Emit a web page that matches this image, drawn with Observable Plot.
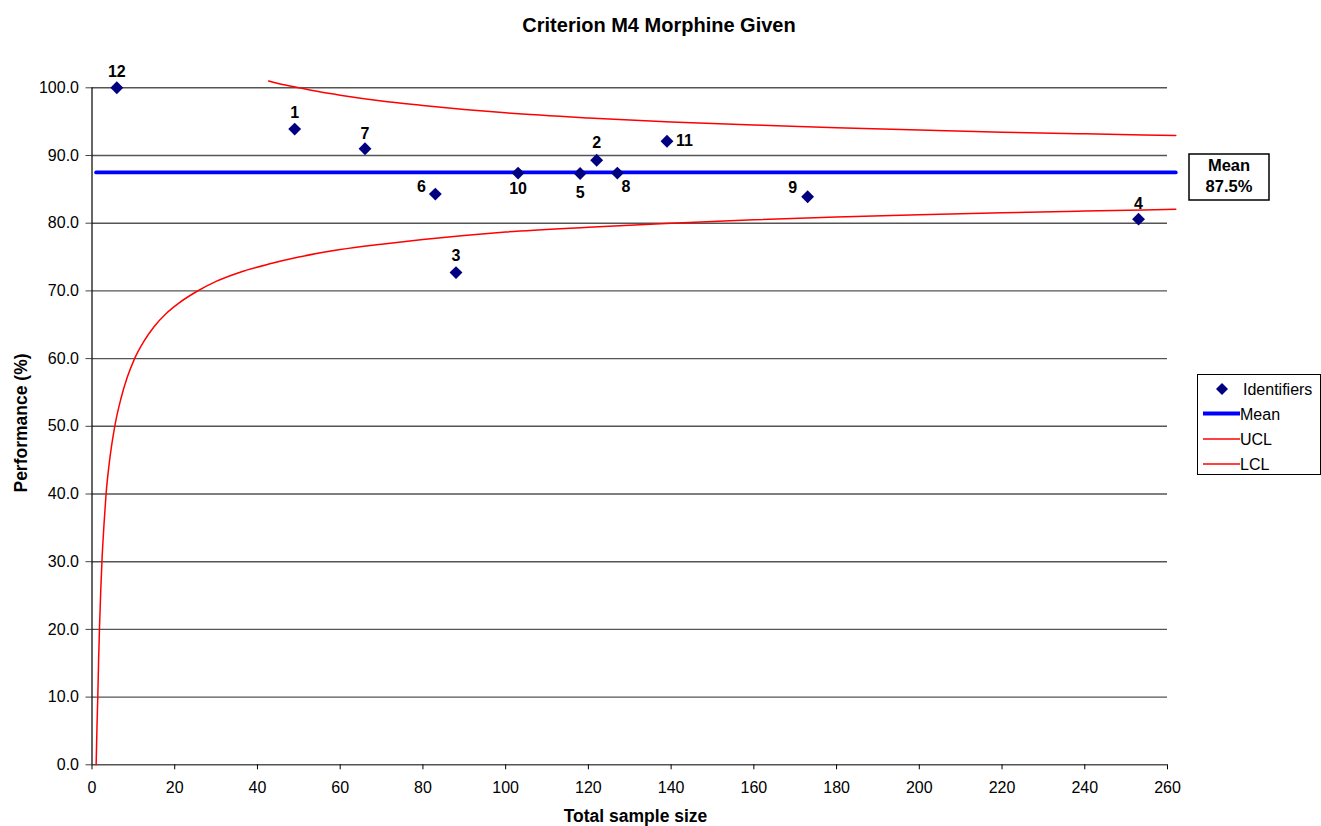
<!DOCTYPE html>
<html>
<head>
<meta charset="utf-8">
<script src="https://cdn.jsdelivr.net/npm/d3@7"></script>
<script src="https://cdn.jsdelivr.net/npm/@observablehq/plot@0.6"></script>
<style>
  html, body { margin: 0; padding: 0; background: #fff; overflow: hidden; }
  #wrap { position: relative; width: 1321px; height: 826px; }
  #wrap svg { position: absolute; left: 0; top: 0; }
</style>
</head>
<body>
<div id="wrap"></div>
<script>
// ---- Data ----
const identifiers = ["12", "1", "7", "6", "3", "10", "5", "2", "8", "11", "9", "4"];
const sampleSizes = [6, 49, 66, 83, 88, 103, 118, 122, 127, 139, 173, 253];
const performance = [100.0, 93.9, 91.0, 84.3, 72.7, 87.4, 87.35, 89.3, 87.4, 92.1, 83.9, 80.6];

const meanValue = 87.5;
const meanN = [1, 262];

const uclN = [42.7, 45, 50, 55, 60, 70, 80, 90, 100, 120, 140, 160, 180, 200, 220, 240, 262];
const uclV = [101.0, 100.65, 100.0, 99.4, 98.9, 98.05, 97.4, 96.8, 96.3, 95.55, 94.95, 94.5, 94.1, 93.75, 93.45, 93.2, 92.95];

const lclN = [1, 1.2, 1.4, 1.6, 1.8, 2.1, 2.4, 2.9, 3.4, 4.2, 5.5, 7, 8.5, 10.3, 12.5, 15, 18, 21, 25, 30, 36, 43, 50, 60, 70, 80, 90, 100, 120, 140, 160, 180, 200, 220, 240, 262];
const lclV = [0, 5.5, 10, 15.5, 20, 25.5, 30, 35.5, 40, 44.7, 50, 54.1, 57.2, 60, 62.5, 64.7, 66.7, 68.2, 69.8, 71.4, 72.8, 74.0, 75.0, 76.1, 76.9, 77.6, 78.2, 78.7, 79.4, 80.0, 80.5, 80.9, 81.25, 81.55, 81.8, 82.05];

const xTicks = [0, 20, 40, 60, 80, 100, 120, 140, 160, 180, 200, 220, 240, 260];
const yTicks = [0, 10, 20, 30, 40, 50, 60, 70, 80, 90, 100];

const titleText = "Criterion M4 Morphine Given";
const xLabel = "Total sample size";
const yLabel = "Performance (%)";
const legendItems = ["Identifiers", "Mean", "UCL", "LCL"];

// label layout (pixel offsets from each point)
const labelOffset = {
  "12": [0, -16], "1": [0, -16.5], "7": [0, -15], "6": [-14, -7.5], "3": [0, -16.5],
  "10": [0, 15.5], "5": [0, 19], "2": [0, -17.5], "8": [8.5, 13.5], "11": [17.5, -0.5],
  "9": [-15, -9], "4": [0, -15.5]
};

// ---- Tables ----
const points = identifiers.map((id, i) => ({id, n: sampleSizes[i], p: performance[i]}));
const ucl = uclN.map((n, i) => ({n, v: uclV[i]}));
const lcl = lclN.map((n, i) => ({n, v: lclV[i]}));
const mean = meanN.map(n => ({n, v: meanValue}));

const FONT = '"Liberation Sans", Arial, Helvetica, sans-serif';
const navy = "#000080";

const chart = Plot.plot({
  width: 1321,
  height: 826,
  marginLeft: 91.5,
  marginRight: 154,
  marginTop: 87.3,
  marginBottom: 61.7,
  style: {fontFamily: FONT, fontSize: "16px", background: "#fff", color: "#000"},
  x: {domain: [0, 260]},
  y: {domain: [0, 100]},
  marks: [
    Plot.gridY(yTicks, {stroke: "#555", strokeOpacity: 1, strokeWidth: 1.4}),
    Plot.ruleX([0], {y1: 0, y2: 100, stroke: "#000", strokeWidth: 1.2}),
    Plot.axisY({ticks: yTicks, tickFormat: d => d.toFixed(1), tickSize: 6, tickPadding: 7, fontSize: 16, label: null, stroke: "#444"}),
    Plot.axisX({ticks: xTicks, tickFormat: d => String(d), tickSize: 5, tickPadding: 12, fontSize: 16, label: null}),
    Plot.line(lcl, {x: "n", y: "v", stroke: "#ff0000", strokeWidth: 1.5, curve: "monotone-x"}),
    Plot.line(ucl, {x: "n", y: "v", stroke: "#ff0000", strokeWidth: 1.5, curve: "monotone-x"}),
    Plot.line(mean, {x: "n", y: "v", stroke: "#0000ff", strokeWidth: 3.8}),
    Plot.dot(points, {x: "n", y: "p", symbol: "diamond2", r: 5.8, fill: navy, stroke: "none"}),
    ...points.map(d => Plot.text([d], {
      x: "n", y: "p", text: "id",
      dx: labelOffset[d.id][0], dy: labelOffset[d.id][1],
      fontSize: 16, fontWeight: "bold", fill: "#000", lineAnchor: "middle"
    }))
  ]
});

const wrap = document.getElementById("wrap");
wrap.appendChild(chart);

// ---- Overlay: title, axis titles, mean box, legend ----
const ov = d3.select(wrap).append("svg")
  .attr("width", 1321).attr("height", 826)
  .style("font-family", FONT);

ov.append("text").attr("x", 659).attr("y", 32).attr("text-anchor", "middle")
  .attr("font-size", 20).attr("font-weight", "bold").text(titleText);

ov.append("text").attr("x", 635.5).attr("y", 821.5).attr("text-anchor", "middle")
  .attr("font-size", 17.5).attr("font-weight", "bold").text(xLabel);

ov.append("text").attr("transform", "translate(26.5,423) rotate(-90)").attr("text-anchor", "middle")
  .attr("font-size", 17.5).attr("font-weight", "bold").text(yLabel);

// Mean box
ov.append("rect").attr("x", 1189).attr("y", 154).attr("width", 80).attr("height", 46)
  .attr("fill", "#fff").attr("stroke", "#000").attr("stroke-width", 1.5);
ov.append("text").attr("x", 1229).attr("y", 170.7).attr("text-anchor", "middle")
  .attr("font-size", 16.5).attr("font-weight", "bold").text("Mean");
ov.append("text").attr("x", 1229).attr("y", 191.7).attr("text-anchor", "middle")
  .attr("font-size", 16.5).attr("font-weight", "bold").text(meanValue.toFixed(1) + "%");

// Legend
ov.append("rect").attr("x", 1197.5).attr("y", 374.5).attr("width", 123).attr("height", 100)
  .attr("fill", "#fff").attr("stroke", "#000").attr("stroke-width", 1);
const rowsY = [389, 413.5, 439, 464];
const sw = [null, {c: "#0000ff", w: 3.8}, {c: "#ff0000", w: 1.5}, {c: "#ff0000", w: 1.5}];
legendItems.forEach((name, i) => {
  const y = rowsY[i];
  if (i === 0) {
    ov.append("path").attr("d", "M1222,383L1228,389L1222,395L1216,389Z").attr("fill", navy);
  } else {
    ov.append("line").attr("x1", 1203).attr("x2", 1240).attr("y1", y).attr("y2", y)
      .attr("stroke", sw[i].c).attr("stroke-width", sw[i].w);
  }
  ov.append("text").attr("x", i === 0 ? 1243 : 1240).attr("y", y + 6).attr("font-size", 16).text(name);
});
</script>
</body>
</html>
